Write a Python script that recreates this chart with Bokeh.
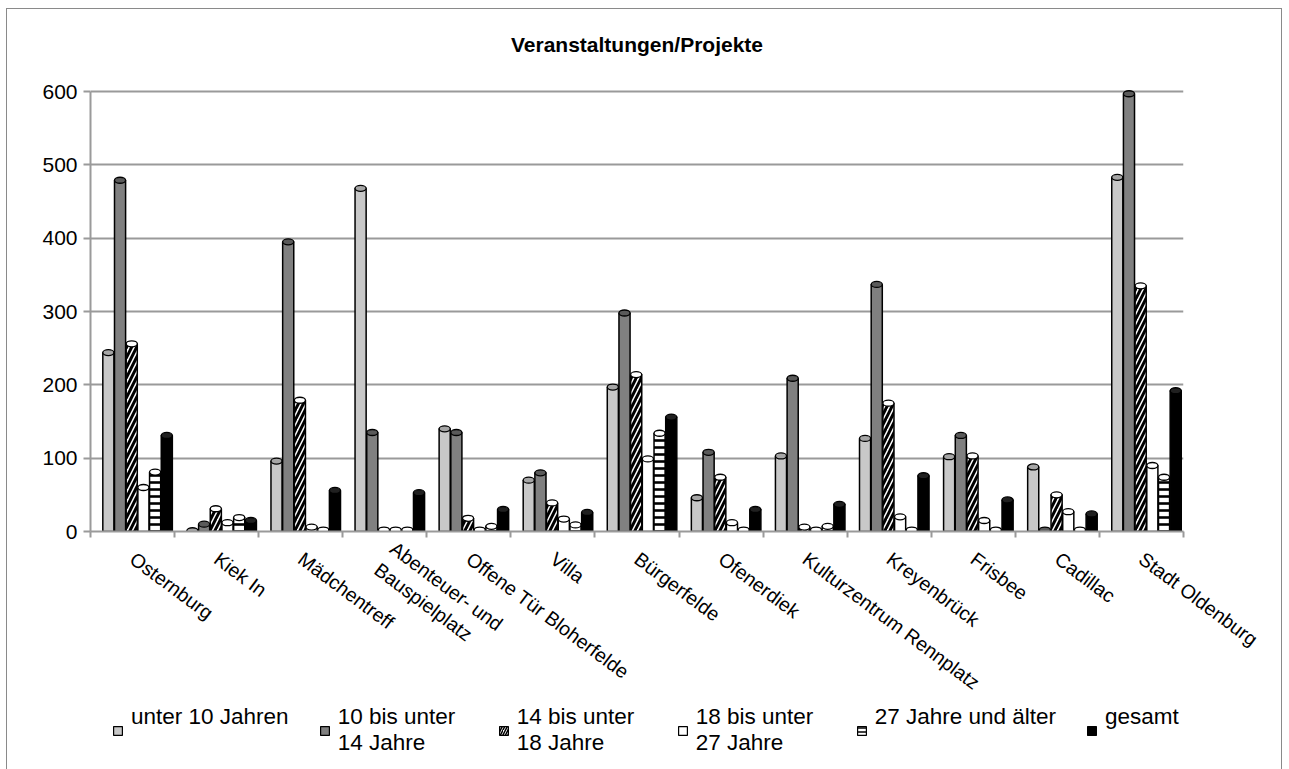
from bokeh.plotting import figure
from bokeh.models import Range1d, FixedTicker, Legend, LegendItem
from bokeh.layouts import column
from bokeh.embed import file_html
from bokeh.resources import INLINE

categories = ["Osternburg", "Kiek In", "Mädchentreff", "Abenteuer- und\nBauspielplatz",
              "Offene Tür Bloherfelde", "Villa", "Bürgerfelde", "Ofenerdiek",
              "Kulturzentrum Rennplatz", "Kreyenbrück", "Frisbee", "Cadillac", "Stadt Oldenburg"]

unter_10 = [244, 1, 96, 468, 140, 70, 197, 46, 103, 127, 102, 88, 483]
von_10_14 = [479, 10, 395, 135, 135, 80, 298, 108, 209, 337, 131, 2, 597]
von_14_18 = [256, 31, 179, 2, 18, 39, 214, 74, 6, 175, 103, 50, 335]
von_18_27 = [60, 12, 6, 2, 2, 17, 99, 12, 2, 20, 15, 27, 90]
ab_27 = [81, 19, 2, 2, 7, 9, 134, 2, 7, 2, 2, 2, 74]
gesamt = [131, 15, 56, 53, 30, 26, 156, 30, 37, 76, 43, 24, 192]

series_labels = ["unter 10 Jahren\n ", "10 bis unter\n14 Jahre", "14 bis unter\n18 Jahre",
                 "18 bis unter\n27 Jahre", "27 Jahre und älter\n ", "gesamt\n "]
series_values = [unter_10, von_10_14, von_14_18, von_18_27, ab_27, gesamt]
y_ticks = [0, 100, 200, 300, 400, 500, 600]

FONT = "Liberation Sans"
fills = ["#c8c8c8", "#808080", "white", "white", "white", "black"]
caps = ["#a6a6a6", "#5a5a5a", "white", "white", "white", "#202020"]
hatches = [None, None, "right_diagonal_line", None, "horizontal_line", None]
hatch_scales = [8, 8, 10, 8, 7, 8]
hatch_weights = [1, 1, 3, 1, 2.6, 1]

W = 1274
p = figure(frame_width=1093, frame_height=461, output_backend="svg", toolbar_location=None,
           x_range=Range1d(-0.5, len(categories) - 0.5), y_range=Range1d(0, 628.7),
           min_border_left=83, min_border_right=98, min_border_top=61, min_border_bottom=100)
p.outline_line_color = None
p.background_fill_color = "white"
p.border_fill_color = "white"

p.title.text = "Veranstaltungen/Projekte"
p.title.align = "center"
p.title.vertical_align = "middle"
p.title.text_font = FONT
p.title.text_font_style = "bold"
p.title.text_font_size = "21px"
p.title.text_line_height = 1.6
p.title.text_color = "black"
p.title.standoff = 27

bw = 0.139
xs_idx = list(range(len(categories)))
dummy = figure(width=W, height=67, output_backend="svg", toolbar_location=None,
               x_range=Range1d(0, 1), y_range=Range1d(0, 1),
               min_border_left=0, min_border_right=0, min_border_top=0, min_border_bottom=0)
dummy.axis.visible = False
dummy.grid.visible = False
dummy.outline_line_color = None
dummy.background_fill_color = "white"
dummy.border_fill_color = "white"

items = []
for j, (lab, vals) in enumerate(zip(series_labels, series_values)):
    xs = [i + (j - 2.5) * bw + 0.06 for i in xs_idx]
    kw = {}
    if hatches[j]:
        kw = dict(hatch_pattern=hatches[j], hatch_color="black",
                  hatch_scale=hatch_scales[j], hatch_weight=hatch_weights[j])
    p.vbar(x=xs, top=vals, width=bw * 0.95, bottom=0, fill_color=fills[j],
           line_color="black", line_width=1.5, **kw)
    p.ellipse(x=xs, y=vals, width=bw * 0.95, height=6, height_units="screen",
              fill_color=caps[j], line_color="black", line_width=1.3)
    lkw = {}
    if hatches[j]:
        lkw = dict(hatch_pattern=hatches[j], hatch_color="black",
                   hatch_scale=5 if j == 2 else 4, hatch_weight=1.5)
    r = dummy.vbar(x=[0.5], top=[-2], bottom=[-3], width=0.01, fill_color=fills[j],
                   line_color="black", line_width=1.2, **lkw)
    items.append(LegendItem(label=lab, renderers=[r]))

p.ygrid.grid_line_color = "#9a9a9a"
p.ygrid.grid_line_width = 2
p.xgrid.grid_line_color = None

p.yaxis.ticker = FixedTicker(ticks=y_ticks)
p.yaxis.bounds = (0, 600)
p.yaxis.axis_line_color = "#9a9a9a"
p.yaxis.axis_line_width = 2
p.yaxis.major_tick_line_color = "#9a9a9a"
p.yaxis.major_tick_line_width = 2
p.yaxis.major_tick_out = 7
p.yaxis.major_tick_in = 0
p.yaxis.minor_tick_line_color = None
p.yaxis.major_label_text_font = FONT
p.yaxis.major_label_text_font_size = "21px"
p.yaxis.major_label_text_color = "black"
p.yaxis.major_label_standoff = 6

p.xaxis.ticker = FixedTicker(ticks=xs_idx, minor_ticks=[i - 0.5 for i in range(len(categories) + 1)])
p.xaxis.major_label_overrides = {i: c for i, c in enumerate(categories)}
p.xaxis.major_label_orientation = -0.64
p.xaxis.major_label_text_font = FONT
p.xaxis.major_label_text_font_size = "19.5px"
p.xaxis.major_label_text_color = "black"
p.xaxis.major_label_standoff = 19
p.xaxis.axis_line_color = "#9a9a9a"
p.xaxis.axis_line_width = 2
p.xaxis.major_tick_line_color = None
p.xaxis.minor_tick_line_color = "#9a9a9a"
p.xaxis.minor_tick_line_width = 2
p.xaxis.minor_tick_out = 6
p.xaxis.minor_tick_in = 0

legend = Legend(items=items, orientation="horizontal", location=(22, 16),
                label_text_font=FONT, label_text_font_size="22.5px", label_text_color="black",
                label_text_line_height=1.05, label_width=130,
                glyph_width=11, glyph_height=11, spacing=30, label_standoff=8,
                border_line_color=None, background_fill_alpha=0, padding=0)
dummy.add_layout(legend, "center")

layout = column(p, dummy, spacing=0)
layout.styles = {"border": "1px solid #8a8a8a", "margin-left": "6px", "margin-top": "8px"}

open("out.html", "w").write(file_html(layout, INLINE))
